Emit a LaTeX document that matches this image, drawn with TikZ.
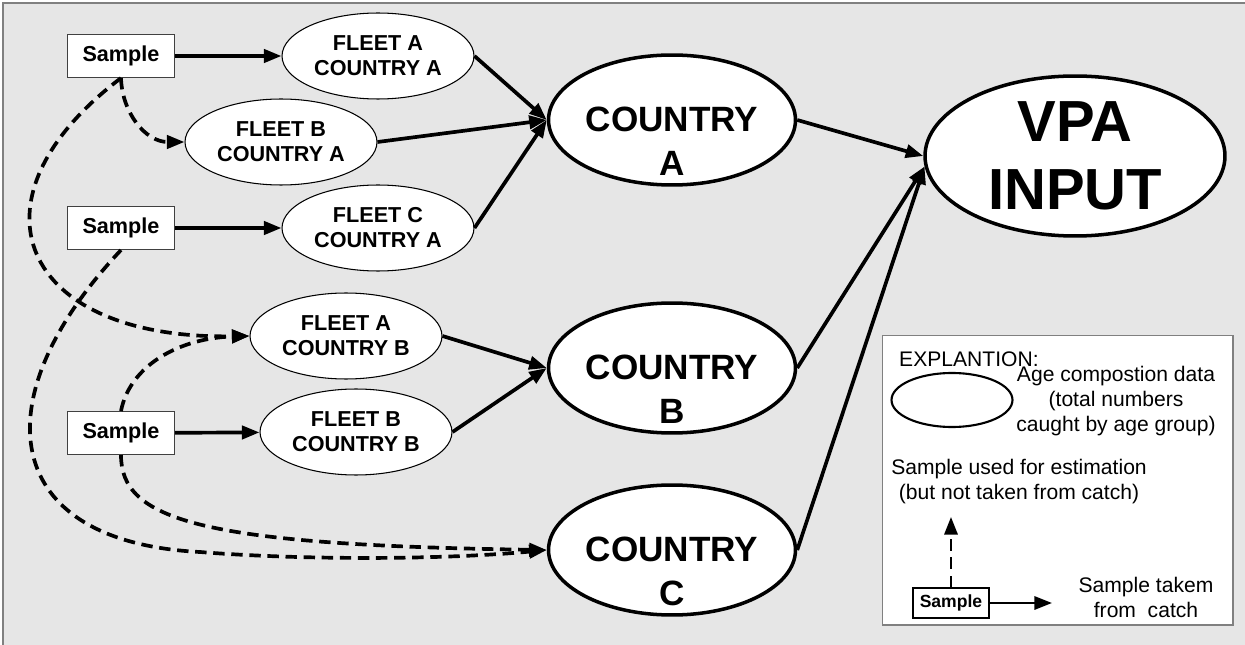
\documentclass[tikz,border=0pt]{standalone}
\usepackage{fontspec}
\setmainfont{Liberation Sans}
\usetikzlibrary{arrows.meta, shapes.geometric}
\definecolor{panelgray}{HTML}{E6E6E6}

\begin{document}
\begin{tikzpicture}[x=0.02cm, y=-0.02cm,
    samplebox/.style={draw=black!75, line width=0.6pt, fill=white, minimum width=2.14cm, minimum height=0.86cm, inner sep=0pt, font=\fontsize{12.3}{14}\selectfont\bfseries},
    fleet/.style={draw, ellipse, line width=0.6pt, fill=white, minimum width=3.84cm, minimum height=1.72cm, inner sep=0pt, align=center, font=\fontsize{12.3}{14.2}\selectfont\bfseries},
    country/.style={draw, ellipse, line width=2pt, fill=white, minimum width=4.94cm, minimum height=2.6cm, inner sep=0pt},
    countrytext/.style={align=center, yshift=-0.42cm, font=\fontsize{20}{25}\selectfont\bfseries},
    keytext/.style={align=center, font=\fontsize{12}{14.2}\selectfont},
    catchline/.style={line width=2.1pt, -{Triangle[length=10pt, width=7.5pt]}},
    estim/.style={catchline, dash pattern=on 6.5pt off 3.8pt},
]
\useasboundingbox (0,0) rectangle (1245,645);
\fill[panelgray] (3,3) rectangle (1245,645);
\draw[gray, line width=0.8pt] (3,645) -- (3,3) -- (1245,3);

% samples
\node[samplebox] (s1) at (121,56) {Sample};
\node[samplebox] (s2) at (121,228) {Sample};
\node[samplebox] (s3) at (121,433) {Sample};

% fleets
\node[fleet] (faca) at (378,56) {FLEET A\\COUNTRY A};
\node[fleet] (fbca) at (281,142) {FLEET B\\COUNTRY A};
\node[fleet] (fcca) at (378,228) {FLEET C\\COUNTRY A};
\node[fleet] (facb) at (346,336) {FLEET A\\COUNTRY B};
\node[fleet] (fbcb) at (356,432) {FLEET B\\COUNTRY B};

% countries and VPA
\node[country, label={[countrytext]center:COUNTRY\\A}] (ca) at (672,120) {};
\node[country, label={[countrytext]center:COUNTRY\\B}] (cb) at (672,368) {};
\node[country, label={[countrytext]center:COUNTRY\\C}] (cc) at (672,550) {};
\node[draw, ellipse, line width=2pt, fill=white, minimum width=6cm, minimum height=3.2cm, inner sep=0pt,
      align=center, font=\fontsize{33}{38.7}\selectfont\bfseries] (vpa) at (1075,156) {VPA\\INPUT};

% samples taken from catch
\draw[catchline] (s1) -- (faca);
\draw[catchline] (s2) -- (fcca);
\draw[catchline] (s3) -- (fbcb);

% fleets to countries
\draw[catchline] (faca.east) -- (ca.west);
\draw[catchline] (fbca.east) -- (ca.west);
\draw[catchline] (fcca.east) -- (ca.west);
\draw[catchline] (facb.east) -- (cb.west);
\draw[catchline] (fbcb.east) -- (cb.west);

% countries to VPA
\draw[catchline] (ca.east) -- (vpa.west);
\draw[catchline] (cb.east) -- (vpa.184);
\draw[catchline] (cc.east) -- (vpa.184);

% samples used for estimation
\coordinate (lowbend) at (200,552);
\draw[estim] (s1.south) .. controls (122,112) and (145,142) .. (fbca.west);
\draw[estim] (s1.south) .. controls (-40,200) and (20,340) .. (facb.west);
\draw[estim] (s2.south) .. controls (-20,400) and (0,542) .. (lowbend) .. controls (300,560) and (440,560) .. (cc.west);
\draw[estim] (s3.north) .. controls (130,365) and (180,338) .. (facb.west);
\draw[estim] (s3.south) .. controls (121,520) and (200,545) .. (cc.west);

% explanation
\node[draw=gray, line width=0.6pt, fill=white, minimum width=7.02cm, minimum height=5.8cm, inner sep=0pt] (keybox) at (1057.5,480) {};
\node[anchor=west, keytext] (keytitle) at (893,359) {EXPLANTION:};
\node[draw, ellipse, line width=1.2pt, minimum width=2.42cm, minimum height=1.08cm, inner sep=0pt] (keyell) at (952,400) {};
\node[keytext] (keyagetxt) at (1116,401) {Age compostion data\\(total numbers\\caught by age group)};
\node[keytext] (keyesttxt) at (1019,482) {Sample used for estimation\\(but not taken from catch)};
\node[draw, line width=1.2pt, fill=white, minimum width=1.52cm, minimum height=0.6cm, inner sep=0pt,
      font=\fontsize{10}{12}\selectfont\bfseries] (keysample) at (951,603) {Sample};
\node[keytext] (keycatchtxt) at (1146,597) {Sample takem\\from~~catch};
\coordinate (keyup) at (951,517);
\coordinate (keyright) at (1052,603);
\draw[estim, line width=1.5pt] (keysample) -- (keyup);
\draw[catchline, line width=1.5pt] (keysample) -- (keyright);
\end{tikzpicture}
\end{document}
